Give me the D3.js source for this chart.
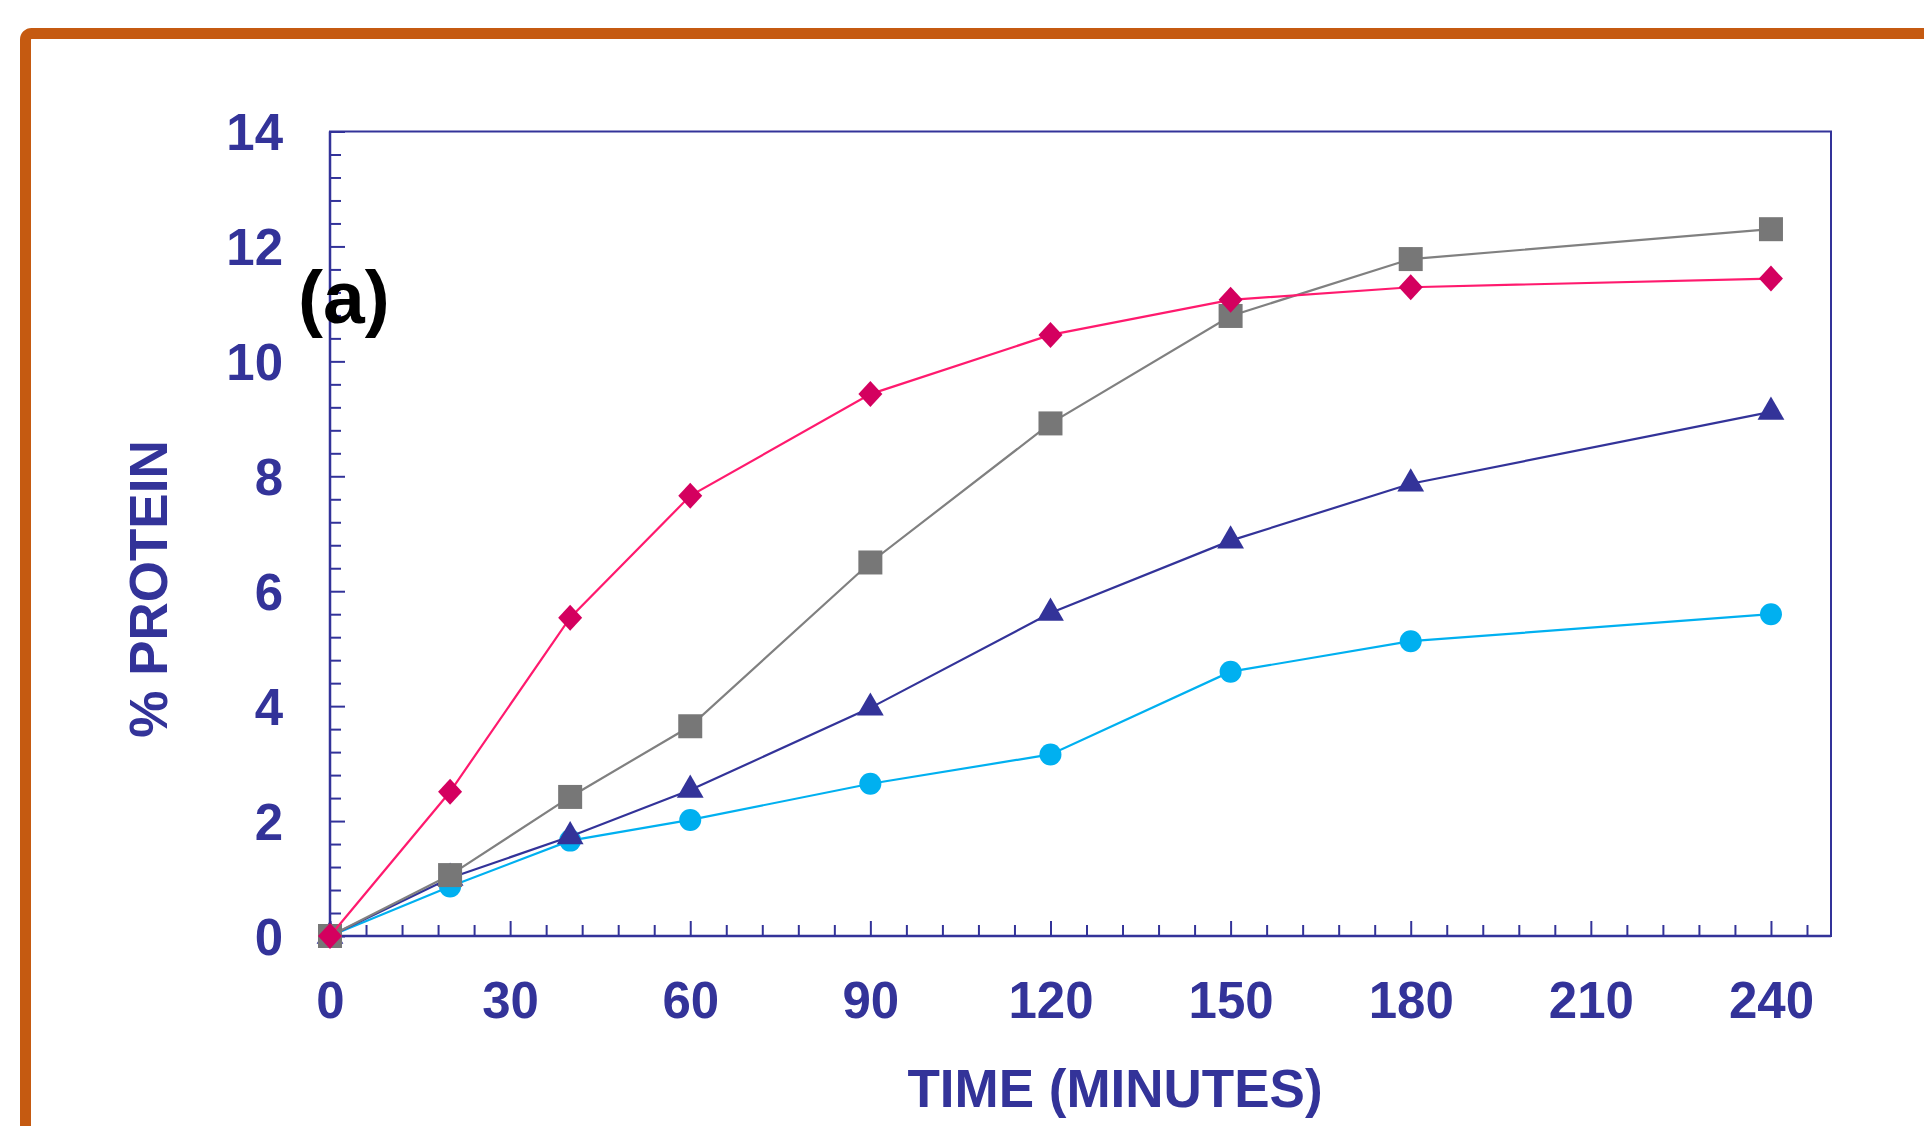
<!DOCTYPE html>
<html>
<head>
<meta charset="utf-8">
<script src="https://cdn.jsdelivr.net/npm/d3@7"></script>
<style>
  html, body { margin: 0; padding: 0; background: #ffffff; }
  svg { display: block; }
  text { font-family: "Liberation Sans", Arial, sans-serif; font-weight: bold; }
</style>
</head>
<body>
<svg id="chart" width="1924" height="1126"></svg>
<script>
// ---- Data ----
const times = [0, 20, 40, 60, 90, 120, 150, 180, 240];
const diamondSeries = [0, 2.51, 5.54, 7.66, 9.43, 10.46, 11.07, 11.29, 11.44];
const squareSeries  = [0, 1.06, 2.42, 3.65, 6.50, 8.92, 10.79, 11.78, 12.30];
const triangleSeries = [0, 1.01, 1.73, 2.54, 3.97, 5.62, 6.88, 7.87, 9.12];
const circleSeries  = [0, 0.86, 1.66, 2.02, 2.65, 3.16, 4.60, 5.13, 5.60];
const xTickValues = [0, 30, 60, 90, 120, 150, 180, 210, 240];
const yTickValues = [0, 2, 4, 6, 8, 10, 12, 14];
const xTitle = "TIME (MINUTES)";
const yTitle = "% PROTEIN";
const panelLabel = "(a)";

// ---- Layout ----
const svg = d3.select("#chart");
const axisColor = "#333399";
const plot = { left: 330, right: 1831, top: 131.5, bottom: 936 };

// Orange frame
svg.append("rect")
  .attr("x", 25.5).attr("y", 33.5)
  .attr("width", 1960).attr("height", 1160)
  .attr("rx", 6).attr("ry", 6)
  .attr("fill", "none")
  .attr("stroke", "#C55A11")
  .attr("stroke-width", 11);

const x = d3.scaleLinear().domain([0, 250]).range([plot.left, plot.right]);
const y = d3.scaleLinear().domain([0, 14]).range([plot.bottom, plot.top]);

// Plot frame (top/right lines)
svg.append("rect")
  .attr("x", plot.left).attr("y", plot.top)
  .attr("width", plot.right - plot.left).attr("height", plot.bottom - plot.top)
  .attr("fill", "none").attr("stroke", axisColor).attr("stroke-width", 2);

// Minor ticks
const xMinor = d3.range(0, 247, 6).filter(v => v % 30 !== 0);
const yMinor = d3.range(0, 14.01, 0.4).map(v => +v.toFixed(1)).filter(v => Math.abs(v / 2 - Math.round(v / 2)) > 1e-6);

const xAxisMinor = d3.axisBottom(x).tickValues(xMinor).tickSize(-11).tickFormat("");
const xAxisMajor = d3.axisBottom(x).tickValues(xTickValues).tickSize(-15).tickPadding(46);
const yAxisMinor = d3.axisLeft(y).tickValues(yMinor).tickSize(-11).tickFormat("");
const yAxisMajor = d3.axisLeft(y).tickValues(yTickValues).tickSize(-15).tickPadding(47);

function styleAxis(g) {
  g.select(".domain").remove();
  g.selectAll(".tick line").attr("stroke", axisColor).attr("stroke-width", 2);
  g.selectAll(".tick text")
    .attr("fill", axisColor)
    .style("font-family", "'Liberation Sans', Arial, sans-serif")
    .style("font-weight", "bold")
    .style("font-size", "51px");
}

svg.append("g").attr("transform", `translate(0,${plot.bottom})`).call(xAxisMinor).call(styleAxis);
svg.append("g").attr("transform", `translate(0,${plot.bottom})`).call(xAxisMajor).call(styleAxis);
svg.append("g").attr("transform", `translate(${plot.left},0)`).call(yAxisMinor).call(styleAxis);
svg.append("g").attr("transform", `translate(${plot.left},0)`).call(yAxisMajor).call(styleAxis)
  .selectAll(".tick text").attr("dy", "0.36em");

// Axis lines on top
svg.append("line").attr("x1", plot.left).attr("x2", plot.right).attr("y1", plot.bottom).attr("y2", plot.bottom)
  .attr("stroke", axisColor).attr("stroke-width", 2.5);
svg.append("line").attr("x1", plot.left).attr("x2", plot.left).attr("y1", plot.top).attr("y2", plot.bottom)
  .attr("stroke", axisColor).attr("stroke-width", 2.5);

// Titles
svg.append("text")
  .attr("x", 1115).attr("y", 1107)
  .attr("text-anchor", "middle")
  .attr("fill", axisColor)
  .style("font-size", "53px")
  .text(xTitle);

svg.append("text")
  .attr("transform", "translate(167,589) rotate(-90)")
  .attr("text-anchor", "middle")
  .attr("fill", axisColor)
  .style("font-size", "53px")
  .text(yTitle);

// Series
const series = [
  { name: "circle",   values: circleSeries,   line: "#00B0F0", fill: "#00B0F0", shape: d3.symbolCircle,   size: Math.PI * 11 * 11 },
  { name: "triangle", values: triangleSeries, line: "#333399", fill: "#333399", shape: d3.symbolTriangle, size: 25 * 25 * Math.sqrt(3) / 4 * 1.15 },
  { name: "square",   values: squareSeries,   line: "#808080", fill: "#777777", shape: d3.symbolSquare,   size: 24 * 24 },
  { name: "diamond",  values: diamondSeries,  line: "#FF1A6E", fill: "#D4005F", shape: null,              size: 0 }
];

const lineGen = d3.line().x((d, i) => x(times[i])).y(d => y(d));

series.forEach(s => {
  const g = svg.append("g").attr("class", "series-" + s.name);
  g.append("path")
    .datum(s.values)
    .attr("d", lineGen)
    .attr("fill", "none")
    .attr("stroke", s.line)
    .attr("stroke-width", 2.2);
  const pts = g.selectAll("path.marker")
    .data(s.values)
    .enter().append("path")
    .attr("class", "marker")
    .attr("transform", (d, i) => `translate(${x(times[i])},${y(d)})`)
    .attr("fill", s.fill);
  if (s.shape) {
    pts.attr("d", d3.symbol().type(s.shape).size(s.size)());
  } else {
    pts.attr("d", "M0,-13L12,0L0,13L-12,0Z");
  }
});

// Panel label
svg.append("text")
  .attr("x", 298).attr("y", 323)
  .attr("fill", "#000000")
  .style("font-size", "75px")
  .text(panelLabel);
</script>
</body>
</html>
